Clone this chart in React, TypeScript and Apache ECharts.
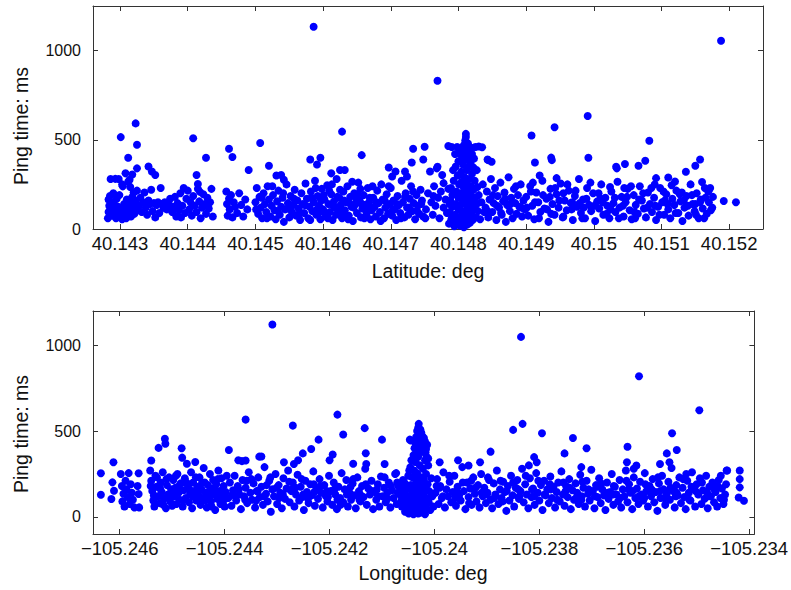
import React, { useEffect, useRef } from "react";
import * as echarts from "echarts";

type P = [number, number];

const latTicks = [40.143, 40.144, 40.145, 40.146, 40.147, 40.148, 40.149, 40.15, 40.151, 40.152];
const lonTicks = [-105.246, -105.244, -105.242, -105.24, -105.238, -105.236, -105.234];
const pingTicks = [0, 500, 1000];

// ---------- Latitude plot ----------
const latLeft: P[] = [
  [40.14282, 60], [40.14283, 95], [40.14284, 130], [40.14283, 165], [40.14285, 185], [40.14286, 115], [40.14288, 75], [40.14289, 150],
  [40.1429, 200], [40.14291, 105], [40.14292, 135], [40.14294, 60], [40.14295, 170], [40.14296, 90], [40.14297, 125], [40.14298, 280],
  [40.14286, 280], [40.14299, 190], [40.14301, 75], [40.14303, 55], [40.14304, 110], [40.14306, 140], [40.14307, 90], [40.14309, 60],
  [40.1431, 165], [40.14312, 120], [40.14313, 95], [40.14315, 235], [40.14316, 70], [40.14317, 150], [40.14318, 180], [40.14319, 110],
  [40.1432, 205], [40.14321, 85], [40.14322, 135], [40.14323, 160], [40.14324, 100], [40.14325, 215], [40.14312, 265], [40.14318, 305],
  [40.14303, 250], [40.14328, 130], [40.1433, 175], [40.14332, 95], [40.14334, 150], [40.14336, 205], [40.14338, 120], [40.1434, 80],
  [40.14342, 160], [40.14344, 140], [40.14346, 220], [40.14348, 100], [40.1435, 145], [40.14352, 65], [40.14354, 135], [40.14356, 150],
  [40.14358, 90], [40.1436, 230], [40.14362, 140], [40.14364, 120], [40.14366, 150], [40.14369, 110], [40.14372, 140], [40.14374, 170],
  [40.14377, 95], [40.14379, 125], [40.14381, 180], [40.14383, 70], [40.14385, 145], [40.14387, 105], [40.14389, 200],
  [40.1439, 65], [40.14392, 130], [40.14394, 230], [40.14396, 90], [40.14398, 170], [40.144, 215], [40.14402, 110], [40.14404, 150],
  [40.14406, 75], [40.14408, 185], [40.1441, 130], [40.14413, 95], [40.14415, 225], [40.14417, 155], [40.14419, 60], [40.14421, 120],
  [40.14423, 195], [40.14425, 140], [40.14427, 85], [40.14429, 175], [40.14431, 115], [40.14433, 150], [40.14435, 225], [40.14437, 70],
  [40.14457, 210], [40.14458, 140], [40.14459, 75], [40.14461, 170], [40.14462, 110], [40.14464, 190], [40.14466, 65], [40.14468, 150],
  [40.1447, 125], [40.14473, 90], [40.14476, 200], [40.14479, 135], [40.14482, 70], [40.14485, 165], [40.14488, 110],
];

const latMiddle: P[] = [
  [40.145, 150], [40.14502, 230], [40.14504, 85], [40.14506, 180], [40.14508, 120], [40.1451, 60], [40.14512, 200], [40.14514, 140],
  [40.14516, 95], [40.14518, 240], [40.1452, 165], [40.14522, 70], [40.14524, 130], [40.14526, 190], [40.14528, 105], [40.1453, 55],
  [40.14532, 155], [40.14534, 215], [40.14536, 80], [40.14538, 125], [40.1454, 175], [40.14542, 40], [40.14544, 110], [40.14546, 250],
  [40.14548, 145], [40.1455, 65], [40.14552, 185], [40.14554, 95], [40.14556, 135], [40.14558, 220], [40.1456, 75], [40.14562, 160],
  [40.14564, 115], [40.14566, 50], [40.14568, 200], [40.1457, 140], [40.14572, 90], [40.14574, 255], [40.14576, 170], [40.14578, 60],
  [40.1458, 125], [40.14582, 210], [40.14584, 100], [40.14586, 150], [40.14588, 270], [40.1459, 80], [40.14592, 185], [40.14594, 130],
  [40.14596, 55], [40.14598, 225], [40.146, 110], [40.14602, 165], [40.14604, 70], [40.14606, 245], [40.14608, 140], [40.1461, 95],
  [40.14612, 195], [40.14614, 50], [40.14616, 155], [40.14618, 120], [40.1462, 280], [40.14622, 85], [40.14624, 175], [40.14626, 135],
  [40.14628, 60], [40.1463, 210], [40.14632, 105], [40.14634, 150], [40.14636, 240], [40.14638, 75], [40.1464, 180], [40.14642, 125],
  [40.14644, 45], [40.14646, 200], [40.14648, 140], [40.1465, 90], [40.14652, 260], [40.14654, 160], [40.14656, 65], [40.14658, 115],
  [40.1466, 190], [40.14662, 135], [40.14664, 80], [40.14666, 230], [40.14668, 150], [40.1467, 55], [40.14672, 105], [40.14674, 175],
  [40.14676, 125], [40.14678, 70], [40.1468, 215], [40.14682, 145], [40.14684, 95], [40.14686, 250], [40.14688, 165], [40.1469, 60],
  [40.14692, 120], [40.14694, 195], [40.14696, 85], [40.14698, 140], [40.147, 230], [40.14702, 75], [40.14704, 160], [40.14706, 110],
  [40.14708, 50], [40.1471, 185], [40.14712, 135], [40.14714, 90], [40.14716, 270], [40.14718, 150], [40.1472, 65], [40.14722, 200],
  [40.14724, 120], [40.14726, 80], [40.14728, 170], [40.1473, 240], [40.14732, 100], [40.14734, 145], [40.14736, 55], [40.14738, 190],
  [40.1474, 130], [40.14742, 85], [40.14744, 220], [40.14746, 160], [40.14748, 70],
  [40.14583, 175], [40.14591, 110], [40.14597, 160], [40.14603, 90], [40.14609, 215], [40.14615, 130], [40.14621, 180], [40.14627, 100],
  [40.14633, 70], [40.14639, 145], [40.14645, 120], [40.14651, 195], [40.14657, 140], [40.14663, 105], [40.14669, 175],
  [40.14752, 110], [40.14755, 200], [40.14758, 322], [40.1476, 150], [40.14762, 80], [40.14764, 240], [40.14766, 130], [40.14768, 340],
  [40.1477, 175], [40.14772, 60], [40.14774, 210], [40.14776, 303], [40.14778, 257], [40.14778, 120], [40.14781, 165], [40.14783, 90],
  [40.14785, 225], [40.14787, 140], [40.14789, 45], [40.14791, 190],
];

const latMiddleExtra: P[] = [
  [40.14501, 110], [40.14509, 175], [40.14517, 60], [40.14525, 240], [40.14533, 100], [40.14541, 200], [40.14549, 115], [40.14557, 170],
  [40.14565, 85], [40.14573, 135], [40.14581, 50], [40.14589, 230], [40.14595, 95], [40.14601, 190], [40.14607, 60], [40.14613, 250],
  [40.14619, 80], [40.14625, 220], [40.14631, 160], [40.14637, 55], [40.14643, 265], [40.14649, 170], [40.14655, 225], [40.14661, 60],
  [40.14667, 120], [40.14673, 240], [40.14679, 150], [40.14685, 45], [40.14691, 160], [40.14697, 240], [40.14703, 110], [40.14709, 140],
  [40.14715, 60], [40.14721, 180], [40.14727, 120], [40.14733, 210], [40.14739, 100], [40.14745, 140], [40.14751, 60], [40.14763, 185],
];

const latSpike: P[] = [
  [40.14786, 30], [40.14787, 95], [40.14788, 160], [40.14789, 230], [40.1479, 60], [40.14791, 125], [40.14792, 195], [40.14793, 270],
  [40.14794, 15], [40.14795, 80], [40.14796, 140], [40.14797, 210], [40.14798, 45], [40.14799, 300], [40.148, 110], [40.148, 175],
  [40.14801, 250], [40.14802, 20], [40.14803, 70], [40.14803, 135], [40.14804, 320], [40.14805, 200], [40.14805, 265], [40.14806, 40],
  [40.14806, 100], [40.14807, 160], [40.14807, 360], [40.14808, 230], [40.14808, 10], [40.14809, 290], [40.14809, 85], [40.1481, 145],
  [40.1481, 400], [40.14811, 185], [40.14811, 55], [40.14812, 250], [40.14812, 330], [40.14813, 115], [40.14813, 25], [40.14814, 215],
  [40.14814, 425], [40.14815, 75], [40.14815, 165], [40.14816, 280], [40.14816, 350], [40.14817, 130], [40.14817, 35], [40.14818, 240],
  [40.14818, 195], [40.14819, 90], [40.1482, 310], [40.1482, 150], [40.14821, 50], [40.14822, 220], [40.14823, 120], [40.14824, 270],
  [40.14825, 175], [40.14826, 65], [40.14827, 140], [40.14828, 235], [40.14829, 100], [40.1483, 190], [40.14832, 55], [40.14834, 150],
  [40.14836, 250], [40.14838, 95],
  [40.148, 380], [40.14802, 420], [40.14803, 440], [40.14805, 455], [40.14806, 410], [40.14808, 385], [40.14808, 470], [40.14809, 440],
  [40.1481, 496], [40.14811, 515], [40.14811, 533], [40.14812, 460], [40.14813, 390], [40.14814, 480], [40.14815, 445], [40.14817, 405],
  [40.14818, 370], [40.14819, 455], [40.1482, 420], [40.14822, 345], [40.14796, 350], [40.14798, 460], [40.1479, 460], [40.14785, 465],
  [40.14825, 460], [40.1483, 462], [40.14835, 458], [40.14795, 420], [40.14823, 395], [40.14827, 330], [40.14792, 330],
];

const latRight: P[] = [
  [40.1484, 120], [40.14842, 210], [40.14844, 65], [40.14846, 165], [40.14848, 280], [40.1485, 95], [40.14852, 145], [40.14854, 230],
  [40.14856, 50], [40.14858, 185], [40.1486, 120], [40.14862, 260], [40.14864, 80], [40.14866, 155], [40.14868, 205], [40.1487, 40],
  [40.14872, 135], [40.14874, 290], [40.14876, 100], [40.14878, 175], [40.1488, 60], [40.14882, 225], [40.14884, 145], [40.14886, 85],
  [40.14888, 190], [40.1489, 125], [40.14892, 250], [40.14894, 70], [40.14896, 160], [40.14898, 110],
  [40.14843, 100], [40.14851, 190], [40.14857, 130], [40.14863, 90], [40.14869, 170], [40.14877, 140], [40.14885, 240], [40.14893, 120],
  [40.149, 180], [40.14903, 75], [40.14906, 240], [40.14909, 130], [40.14912, 55], [40.14915, 205], [40.14918, 150], [40.14921, 95],
  [40.14924, 270], [40.14927, 115], [40.1493, 170], [40.14933, 40], [40.14936, 225], [40.14939, 140], [40.14942, 80], [40.14945, 195],
  [40.14948, 120], [40.14951, 255], [40.14954, 65], [40.14957, 160], [40.1496, 105], [40.14963, 215], [40.14966, 145], [40.14969, 50],
  [40.14972, 185], [40.14975, 125], [40.14978, 280], [40.14981, 90], [40.14984, 165], [40.14987, 60], [40.1499, 230], [40.14993, 135],
  [40.14996, 100], [40.14999, 200], [40.15002, 45], [40.15005, 155], [40.15008, 115], [40.15011, 250], [40.15014, 80], [40.15017, 175],
  [40.1502, 130], [40.15023, 60], [40.15026, 210], [40.15029, 145], [40.15032, 95], [40.15035, 265], [40.15038, 120], [40.15041, 180],
  [40.15044, 70], [40.15047, 150], [40.1505, 225], [40.15053, 105], [40.15056, 55], [40.15059, 190], [40.15062, 135], [40.15065, 85],
  [40.15068, 240], [40.15071, 160], [40.15074, 115], [40.15077, 65], [40.1508, 205], [40.15083, 140], [40.15086, 95], [40.15089, 175],
  [40.15092, 50], [40.15095, 125], [40.15098, 230], [40.15101, 150], [40.15104, 80], [40.15107, 195], [40.1511, 110], [40.15113, 60],
  [40.15116, 170], [40.15119, 135], [40.15122, 215], [40.15125, 90], [40.15128, 155], [40.15131, 45], [40.15134, 120], [40.15137, 185],
  [40.1514, 75], [40.15143, 250], [40.15146, 140], [40.15149, 100], [40.15152, 200], [40.15155, 60], [40.15158, 165], [40.15161, 115],
  [40.15164, 230], [40.15167, 85], [40.1517, 150], [40.15173, 105], [40.15176, 180],
  [40.1492, 300], [40.14935, 180], [40.14955, 200], [40.14968, 150], [40.14985, 120], [40.1501, 170], [40.15025, 110], [40.15045, 230],
  [40.1506, 95], [40.1509, 250], [40.15105, 160], [40.1513, 205], [40.1515, 140], [40.15165, 175], [40.1491, 260], [40.14945, 285],
];

const latRightExtra: P[] = [
  [40.14901, 120], [40.14907, 210], [40.14913, 150], [40.14919, 60], [40.14925, 190], [40.14931, 110], [40.14937, 85], [40.14943, 230],
  [40.14949, 160], [40.14955, 70], [40.14961, 250], [40.14967, 110], [40.14973, 215], [40.14979, 145], [40.14983, 60], [40.14989, 170],
  [40.14995, 260], [40.15001, 130], [40.15007, 200], [40.15013, 150], [40.15019, 85], [40.15024, 235], [40.15031, 175], [40.15037, 60],
  [40.15043, 130], [40.15049, 180], [40.15055, 240], [40.15061, 60], [40.15067, 165], [40.15073, 200], [40.15079, 120], [40.15085, 230],
  [40.15091, 130], [40.15097, 80], [40.15103, 210], [40.15109, 140], [40.15115, 245], [40.15121, 90], [40.15127, 195], [40.15133, 160],
  [40.15139, 130], [40.15145, 190], [40.15151, 80], [40.15157, 150], [40.15163, 60], [40.15169, 210], [40.15175, 120], [40.15172, 230],
];

const latOutliers: P[] = [
  [40.14586, 1134], [40.14769, 831], [40.15188, 1055],
  [40.14301, 515], [40.14312, 399], [40.14323, 592], [40.14325, 472], [40.14308, 312], [40.14314, 276], [40.14304, 239], [40.14293, 281],
  [40.14325, 340], [40.14342, 350], [40.14347, 322], [40.14352, 303],
  [40.14408, 509], [40.14427, 399], [40.14413, 303], [40.14415, 252], [40.14418, 208],
  [40.14461, 450], [40.14466, 404], [40.1449, 331],
  [40.14507, 482], [40.1452, 355], [40.14531, 300], [40.14538, 303], [40.14542, 276], [40.14581, 390], [40.14596, 399], [40.14591, 362],
  [40.14628, 546], [40.14657, 414], [40.14625, 331], [40.14632, 331], [40.14612, 312], [40.14697, 345], [40.14707, 322], [40.14702, 294],
  [40.14731, 373], [40.14733, 450], [40.14721, 322], [40.14724, 294], [40.1475, 461], [40.14748, 390], [40.14769, 349],
  [40.14844, 386], [40.14849, 377], [40.14843, 390],
  [40.14908, 524], [40.14942, 570], [40.14913, 373], [40.14938, 386], [40.14992, 399], [40.14991, 633], [40.14937, 400],
  [40.15046, 364], [40.15066, 355], [40.15076, 383], [40.15082, 495], [40.15033, 349], [40.15034, 340], [40.15092, 285], [40.1511, 289], [40.1512, 266],
  [40.15157, 390], [40.1515, 355], [40.15136, 321], [40.1516, 263], [40.1517, 217], [40.15192, 157], [40.1521, 150],
];

// ---------- Longitude plot ----------
const lonLeft: P[] = [
  [-105.24636, 254], [-105.24636, 129], [-105.24612, 318], [-105.24614, 201], [-105.24616, 104], [-105.24611, 152],
  [-105.24598, 250], [-105.24596, 180], [-105.24595, 90], [-105.24593, 135], [-105.24591, 60], [-105.24589, 210], [-105.24587, 160],
  [-105.24585, 115], [-105.24583, 255], [-105.24581, 75], [-105.24579, 190], [-105.24577, 140], [-105.24575, 100], [-105.24572, 55],
  [-105.24564, 254], [-105.24564, 133], [-105.24563, 55], [-105.24566, 180],
  [-105.2454, 328], [-105.24542, 270], [-105.2454, 210], [-105.24538, 150], [-105.24536, 95], [-105.24534, 60], [-105.24532, 240],
  [-105.2453, 175], [-105.24528, 120], [-105.24526, 402], [-105.24524, 80], [-105.24522, 200], [-105.2452, 145], [-105.24518, 260],
  [-105.24516, 105], [-105.24514, 455], [-105.24513, 426], [-105.24512, 50], [-105.2451, 185], [-105.24508, 130], [-105.24506, 230],
  [-105.24504, 90], [-105.24502, 160], [-105.245, 65],
  [-105.24498, 215], [-105.24496, 120], [-105.24494, 170], [-105.24492, 75], [-105.2449, 250], [-105.24488, 140], [-105.24486, 100],
  [-105.24484, 195], [-105.24482, 400], [-105.24481, 345], [-105.2448, 60], [-105.24478, 155], [-105.24476, 225], [-105.24474, 110],
  [-105.24472, 310], [-105.2447, 180], [-105.24468, 85], [-105.24466, 135], [-105.24464, 260], [-105.24462, 50], [-105.2446, 200],
  [-105.24458, 150],
  [-105.24456, 320], [-105.24454, 95], [-105.24452, 175], [-105.2445, 125], [-105.24448, 230], [-105.24446, 70], [-105.24444, 160],
  [-105.24442, 110], [-105.2444, 285], [-105.24438, 200], [-105.24436, 140], [-105.24434, 55], [-105.24432, 185], [-105.2443, 120],
  [-105.24428, 250], [-105.24426, 90], [-105.24424, 165], [-105.24422, 215], [-105.2442, 130], [-105.24418, 40], [-105.24416, 190],
  [-105.24414, 105], [-105.24412, 270], [-105.2441, 150], [-105.24408, 75], [-105.24406, 225], [-105.24404, 125], [-105.24402, 180],
  [-105.244, 60], [-105.24398, 145], [-105.24396, 240],
  [-105.24541, 180], [-105.24535, 125], [-105.24529, 230], [-105.24523, 165], [-105.24517, 70], [-105.24511, 220], [-105.24505, 110],
  [-105.24499, 150], [-105.24493, 240], [-105.24487, 180], [-105.24479, 95], [-105.24473, 200], [-105.24467, 160], [-105.24461, 120],
  [-105.24455, 230], [-105.24449, 150], [-105.24443, 200], [-105.24437, 95], [-105.24431, 140], [-105.24425, 60], [-105.24419, 160],
  [-105.24413, 220], [-105.24407, 130], [-105.24401, 100],
];

const lonMiddle: P[] = [
  [-105.24393, 110], [-105.2439, 200], [-105.24387, 65], [-105.24384, 155], [-105.24381, 240], [-105.24378, 95], [-105.24375, 180],
  [-105.24372, 130], [-105.24369, 45], [-105.24366, 215], [-105.24363, 120], [-105.2436, 170], [-105.24357, 80], [-105.24354, 260],
  [-105.24351, 140], [-105.24348, 100], [-105.24345, 195], [-105.24342, 55], [-105.24339, 150], [-105.24336, 230], [-105.24333, 115],
  [-105.2433, 175], [-105.24327, 70], [-105.24324, 290], [-105.24321, 135], [-105.24318, 90], [-105.24315, 210], [-105.24312, 30],
  [-105.24309, 160], [-105.24306, 120], [-105.24303, 250], [-105.243, 75], [-105.24297, 185], [-105.24294, 140], [-105.24291, 50],
  [-105.24288, 225], [-105.24285, 105], [-105.24282, 165], [-105.24279, 270], [-105.24276, 85], [-105.24273, 150], [-105.2427, 200],
  [-105.24267, 60], [-105.24264, 130], [-105.24261, 245], [-105.24258, 95], [-105.24255, 175], [-105.24252, 115], [-105.24249, 40],
  [-105.24246, 210], [-105.24243, 145], [-105.2424, 80], [-105.24237, 190], [-105.24234, 125], [-105.24231, 265], [-105.24228, 65],
  [-105.24225, 160], [-105.24222, 105], [-105.24219, 220], [-105.24216, 140], [-105.24213, 55], [-105.2421, 185], [-105.24207, 120],
  [-105.24204, 90], [-105.24201, 240], [-105.24198, 150], [-105.24195, 70], [-105.24192, 200], [-105.24189, 130], [-105.24186, 45],
  [-105.24183, 175], [-105.2418, 110], [-105.24177, 255], [-105.24174, 85], [-105.24171, 160], [-105.24168, 215], [-105.24165, 60],
  [-105.24162, 140], [-105.24159, 100], [-105.24156, 195], [-105.24153, 125], [-105.2415, 50], [-105.24147, 230], [-105.24144, 150],
  [-105.24141, 90], [-105.24138, 180], [-105.24135, 115], [-105.24132, 280], [-105.24129, 70], [-105.24126, 165], [-105.24123, 130],
  [-105.2412, 210], [-105.24117, 45], [-105.24114, 145], [-105.24111, 100], [-105.24108, 190], [-105.24105, 60], [-105.24102, 235],
  [-105.24099, 120], [-105.24096, 170], [-105.24093, 85], [-105.2409, 140], [-105.24087, 200], [-105.24084, 55], [-105.24081, 155],
  [-105.24078, 110], [-105.24075, 250], [-105.24072, 75], [-105.24069, 180], [-105.24066, 130], [-105.24063, 95], [-105.2406, 215],
  [-105.24057, 60], [-105.24054, 160], [-105.24051, 120], [-105.24048, 270],
  [-105.2438, 120], [-105.24358, 210], [-105.2434, 95], [-105.2432, 185], [-105.24296, 110], [-105.24272, 160], [-105.2425, 130],
  [-105.2423, 190], [-105.24205, 150], [-105.24185, 100], [-105.2416, 175], [-105.2414, 125], [-105.2411, 160], [-105.2409, 105],
  [-105.2407, 140], [-105.24055, 190],
  [-105.24385, 130], [-105.24373, 160], [-105.24361, 100], [-105.24349, 220], [-105.24337, 150], [-105.24325, 120], [-105.24313, 230],
  [-105.24301, 170], [-105.24289, 130], [-105.24277, 205], [-105.24265, 170], [-105.24253, 220], [-105.24241, 105], [-105.24229, 145],
  [-105.24217, 180], [-105.24203, 115], [-105.24191, 160], [-105.24179, 70], [-105.24167, 130], [-105.24155, 220], [-105.24143, 100],
  [-105.24131, 190], [-105.24119, 150], [-105.24107, 120], [-105.24095, 230], [-105.24083, 180], [-105.24071, 200], [-105.24061, 160],
];

const lonSpike: P[] = [
  [-105.24062, 60], [-105.2406, 130], [-105.24058, 200], [-105.24056, 30], [-105.24054, 95], [-105.24052, 165], [-105.2405, 240],
  [-105.24049, 20], [-105.24048, 120], [-105.24047, 70], [-105.24046, 290], [-105.24045, 185], [-105.24044, 40], [-105.24043, 150],
  [-105.24042, 230], [-105.24041, 100], [-105.2404, 15], [-105.24039, 270], [-105.24038, 60], [-105.24038, 175], [-105.24037, 130],
  [-105.24036, 320], [-105.24035, 35], [-105.24035, 210], [-105.24034, 90], [-105.24033, 255], [-105.24032, 155], [-105.24031, 20],
  [-105.24031, 350], [-105.2403, 115], [-105.24029, 195], [-105.24028, 65], [-105.24028, 300], [-105.24027, 140], [-105.24026, 230],
  [-105.24025, 25], [-105.24025, 380], [-105.24024, 100], [-105.24023, 175], [-105.24022, 50], [-105.24022, 280], [-105.24021, 135],
  [-105.2402, 215], [-105.24019, 80], [-105.24018, 330], [-105.24018, 15], [-105.24017, 160], [-105.24016, 250], [-105.24015, 110],
  [-105.24014, 45], [-105.24013, 190], [-105.24012, 300], [-105.24011, 85], [-105.2401, 150], [-105.24008, 40], [-105.24006, 225],
  [-105.24004, 120], [-105.24002, 60],
  [-105.2404, 360], [-105.24038, 400], [-105.24036, 430], [-105.24035, 465], [-105.24034, 390], [-105.24033, 500], [-105.24032, 445],
  [-105.24031, 520], [-105.2403, 542], [-105.24029, 480], [-105.24028, 420], [-105.24027, 510], [-105.24026, 455], [-105.24025, 490],
  [-105.24024, 400], [-105.24023, 470], [-105.24022, 435], [-105.24021, 380], [-105.2402, 460], [-105.24019, 410], [-105.24018, 440],
  [-105.24017, 375], [-105.24016, 395], [-105.24015, 350], [-105.24014, 420], [-105.24044, 330], [-105.24012, 340], [-105.24047, 450],
];

const lonRight: P[] = [
  [-105.23998, 140], [-105.23995, 220], [-105.23992, 75], [-105.23989, 180], [-105.23986, 110], [-105.23983, 260], [-105.2398, 55],
  [-105.23977, 160], [-105.23974, 120], [-105.23971, 205], [-105.23968, 85], [-105.23965, 145], [-105.23962, 240], [-105.23959, 65],
  [-105.23956, 175], [-105.23953, 125], [-105.2395, 95], [-105.23947, 290], [-105.23944, 150], [-105.23941, 45], [-105.23938, 200],
  [-105.23935, 115], [-105.23932, 165], [-105.23929, 70], [-105.23926, 230], [-105.23923, 135], [-105.2392, 90], [-105.23917, 185],
  [-105.23914, 55], [-105.23911, 250], [-105.23908, 120], [-105.23905, 170], [-105.23902, 80], [-105.23899, 140], [-105.23896, 215],
  [-105.23893, 100], [-105.2389, 50], [-105.23887, 195], [-105.23884, 130], [-105.23881, 270], [-105.23878, 75], [-105.23875, 160],
  [-105.23872, 110], [-105.23869, 205], [-105.23866, 145], [-105.23863, 35], [-105.2386, 180], [-105.23857, 95], [-105.23854, 240],
  [-105.23851, 125], [-105.23848, 60], [-105.23845, 170], [-105.23842, 215], [-105.23839, 105], [-105.23836, 150], [-105.23833, 280],
  [-105.2383, 85], [-105.23827, 190], [-105.23824, 130], [-105.23821, 50], [-105.23818, 225], [-105.23815, 115], [-105.23812, 165],
  [-105.23809, 70], [-105.23806, 255], [-105.23803, 140], [-105.238, 95], [-105.23797, 185], [-105.23794, 40], [-105.23791, 210],
  [-105.23788, 125], [-105.23785, 160], [-105.23782, 80], [-105.23779, 235], [-105.23776, 110], [-105.23773, 175], [-105.2377, 55],
  [-105.23767, 145], [-105.23764, 200], [-105.23761, 90], [-105.23758, 265], [-105.23755, 130], [-105.23752, 65], [-105.23749, 180],
  [-105.23746, 115], [-105.23743, 220], [-105.2374, 45], [-105.23737, 155], [-105.23734, 100], [-105.23731, 195], [-105.23728, 140],
  [-105.23725, 75], [-105.23722, 245], [-105.23719, 120], [-105.23716, 170], [-105.23713, 60], [-105.2371, 210], [-105.23707, 135],
  [-105.23704, 95], [-105.23701, 275], [-105.23698, 150], [-105.23695, 50], [-105.23692, 185], [-105.23689, 115], [-105.23686, 225],
  [-105.23683, 80], [-105.2368, 160], [-105.23677, 125], [-105.23674, 40], [-105.23671, 200], [-105.23668, 105], [-105.23665, 145],
  [-105.23662, 250], [-105.23659, 70], [-105.23656, 175], [-105.23653, 130], [-105.2365, 90], [-105.23647, 215], [-105.23644, 55],
  [-105.23641, 160], [-105.23638, 120], [-105.23635, 270], [-105.23632, 85], [-105.23629, 190], [-105.23626, 140], [-105.23623, 45],
  [-105.2362, 230], [-105.23617, 110], [-105.23614, 165], [-105.23611, 75], [-105.23608, 205], [-105.23605, 130], [-105.23602, 95],
  [-105.23599, 255], [-105.23596, 150], [-105.23593, 60], [-105.2359, 180], [-105.23587, 120], [-105.23584, 220], [-105.23581, 85],
  [-105.23578, 145], [-105.23575, 35], [-105.23572, 195], [-105.23569, 110], [-105.23566, 240], [-105.23563, 160], [-105.2356, 70],
  [-105.23557, 135], [-105.23554, 205], [-105.23551, 100], [-105.23548, 285], [-105.23545, 150], [-105.23542, 55], [-105.23539, 185],
  [-105.23536, 125], [-105.23533, 230], [-105.2353, 80], [-105.23527, 170], [-105.23524, 115], [-105.23521, 45], [-105.23518, 210],
  [-105.23515, 140], [-105.23512, 95], [-105.23509, 260], [-105.23506, 165], [-105.23503, 60], [-105.235, 190], [-105.23497, 130],
  [-105.23494, 225], [-105.23491, 75], [-105.23488, 155], [-105.23485, 105], [-105.23482, 240], [-105.23479, 50], [-105.23476, 175],
  [-105.23473, 120], [-105.2347, 200], [-105.23467, 85], [-105.23464, 145], [-105.23461, 60], [-105.23458, 215], [-105.23455, 110],
  [-105.23452, 165], [-105.23449, 75], [-105.23446, 130], [-105.23443, 270],
  [-105.23418, 270], [-105.23418, 220], [-105.23418, 172], [-105.2342, 113], [-105.2341, 94], [-105.23442, 270],
  [-105.2399, 170], [-105.2396, 110], [-105.2393, 210], [-105.239, 130], [-105.2387, 90], [-105.2384, 160], [-105.2381, 120],
  [-105.2378, 190], [-105.2375, 150], [-105.2372, 100], [-105.2369, 175], [-105.2366, 130], [-105.2363, 160], [-105.236, 110],
  [-105.2357, 150], [-105.2354, 120], [-105.2351, 175], [-105.2348, 140], [-105.2346, 180], [-105.2352, 250], [-105.2362, 280],
  [-105.2372, 290], [-105.2382, 300],
  [-105.23996, 180], [-105.23984, 120], [-105.23972, 240], [-105.23958, 150], [-105.23946, 200], [-105.23934, 80], [-105.23922, 170],
  [-105.2391, 140], [-105.23898, 230], [-105.23886, 110], [-105.23874, 210], [-105.23862, 150], [-105.2385, 200], [-105.23838, 120],
  [-105.23826, 240], [-105.23814, 160], [-105.23802, 210], [-105.2379, 130], [-105.23778, 160], [-105.23766, 100], [-105.23754, 200],
  [-105.23742, 170], [-105.2373, 110], [-105.23718, 205], [-105.23706, 160], [-105.23694, 120], [-105.23682, 195], [-105.2367, 140],
  [-105.23658, 180], [-105.23646, 110], [-105.23634, 210], [-105.23622, 150], [-105.2361, 120], [-105.23598, 190], [-105.23586, 160],
  [-105.23574, 230], [-105.23562, 110], [-105.2355, 170], [-105.23538, 140], [-105.23526, 220], [-105.23514, 100], [-105.23502, 150],
  [-105.2349, 200], [-105.23478, 120], [-105.23466, 160], [-105.23454, 240], [-105.23444, 190], [-105.23448, 100],
];

const lonOutliers: P[] = [
  [-105.24309, 1121], [-105.23835, 1049], [-105.2361, 820], [-105.23495, 621],
  [-105.24392, 390], [-105.2436, 567], [-105.24334, 351], [-105.2433, 352], [-105.24374, 330], [-105.24367, 325], [-105.2436, 328],
  [-105.2427, 532], [-105.24251, 370], [-105.24235, 396], [-105.24221, 450], [-105.24185, 596], [-105.24174, 480], [-105.24194, 363],
  [-105.24133, 517], [-105.24131, 371], [-105.241, 450], [-105.24095, 308], [-105.24073, 255], [-105.24155, 310], [-105.242, 330],
  [-105.2426, 330], [-105.24287, 318], [-105.24268, 308], [-105.2413, 308], [-105.24045, 445],
  [-105.2385, 507], [-105.23832, 542], [-105.23795, 487], [-105.23736, 460], [-105.23547, 487], [-105.23632, 409], [-105.23538, 390],
  [-105.23557, 370], [-105.23752, 370], [-105.23893, 380], [-105.2371, 400], [-105.2381, 348], [-105.23805, 318], [-105.23913, 318],
  [-105.23935, 299], [-105.23955, 330], [-105.2399, 318], [-105.23633, 318], [-105.23615, 299], [-105.2357, 308], [-105.23552, 318],
];

const latData = [...latLeft, ...latMiddle, ...latMiddleExtra, ...latSpike, ...latRight, ...latRightExtra, ...latOutliers];
const lonData = [...lonLeft, ...lonMiddle, ...lonSpike, ...lonRight, ...lonOutliers];

const FONT = "'Liberation Sans', Arial, Helvetica, sans-serif";
const AXIS_COLOR = "#333333";

function fmt(v: number) {
  return String(parseFloat(v.toFixed(3))).replace("-", "\u2212");
}

function xAxisPair(gridIndex: number, min: number, max: number, ticks: number[]) {
  const line = { show: true, onZero: false, lineStyle: { color: AXIS_COLOR, width: 1 } };
  const tick = { show: true, inside: true, length: 5, customValues: ticks, lineStyle: { color: AXIS_COLOR } };
  return [
    {
      type: "value", gridIndex, position: "bottom", min, max, scale: true,
      axisLine: line, axisTick: tick, splitLine: { show: false },
      axisLabel: { show: true, customValues: ticks, formatter: fmt, margin: 5, color: "#111", fontSize: 18.5, fontFamily: FONT },
    },
    {
      type: "value", gridIndex, position: "top", min, max, scale: true,
      axisLine: line, axisTick: tick, splitLine: { show: false }, axisLabel: { show: false },
    },
  ];
}

function yAxisPair(gridIndex: number, min: number, max: number) {
  const line = { show: true, onZero: false, lineStyle: { color: AXIS_COLOR, width: 1 } };
  const tick = { show: true, inside: true, length: 5, customValues: pingTicks, lineStyle: { color: AXIS_COLOR } };
  return [
    {
      type: "value", gridIndex, position: "left", min, max,
      axisLine: line, axisTick: tick, splitLine: { show: false },
      axisLabel: { show: true, customValues: pingTicks, formatter: (v: number) => String(v), margin: 12, color: "#111", fontSize: 16, fontFamily: FONT },
    },
    {
      type: "value", gridIndex, position: "right", min, max,
      axisLine: line, axisTick: tick, splitLine: { show: false }, axisLabel: { show: false },
    },
  ];
}

export default function App() {
  const ref = useRef<HTMLDivElement>(null);
  useEffect(() => {
    if (!ref.current) return;
    const chart = echarts.init(ref.current, undefined, { renderer: "svg" });
    const xa = [...xAxisPair(0, 40.1426, 40.1525, latTicks), ...xAxisPair(1, -105.24651, -105.2339, lonTicks)];
    const ya = [...yAxisPair(0, 0, 1250), ...yAxisPair(1, -100, 1200)];
    chart.setOption({
      animation: false,
      backgroundColor: "#ffffff",
      grid: [
        { left: 93, top: 6, width: 670, height: 223 },
        { left: 93, top: 311, width: 669, height: 223 },
      ],
      xAxis: xa,
      yAxis: ya,
      graphic: [
        { type: "text", x: 428, y: 271, style: { text: "Latitude: deg", fontSize: 19.5, fontFamily: FONT, fill: "#111", align: "center", verticalAlign: "middle" } },
        { type: "text", x: 423, y: 573, style: { text: "Longitude: deg", fontSize: 19.5, fontFamily: FONT, fill: "#111", align: "center", verticalAlign: "middle" } },
        { type: "text", x: 21, y: 126, rotation: Math.PI / 2, style: { text: "Ping time: ms", fontSize: 19.5, fontFamily: FONT, fill: "#111", align: "center", verticalAlign: "middle" } },
        { type: "text", x: 21, y: 434, rotation: Math.PI / 2, style: { text: "Ping time: ms", fontSize: 19.5, fontFamily: FONT, fill: "#111", align: "center", verticalAlign: "middle" } },
      ],
      series: [
        {
          type: "scatter", xAxisIndex: 0, yAxisIndex: 0, data: latData, symbol: "circle", symbolSize: 8,
          itemStyle: { color: "#0000ff", opacity: 1 }, silent: true,
        },
        {
          type: "scatter", xAxisIndex: 2, yAxisIndex: 2, data: lonData, symbol: "circle", symbolSize: 8,
          itemStyle: { color: "#0000ff", opacity: 1 }, silent: true,
        },
      ],
    });
    return () => chart.dispose();
  }, []);
  return <div ref={ref} style={{ position: "fixed", left: 0, top: 0, width: 791, height: 590, background: "#fff" }} />;
}
